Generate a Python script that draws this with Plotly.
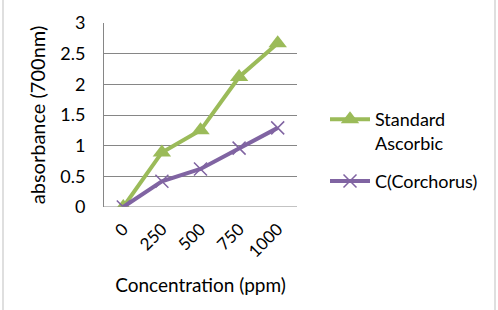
import plotly.graph_objects as go

categories = ["0", "250", "500", "750", "1000"]
standard_ascorbic = [0, 0.89, 1.25, 2.12, 2.67]
corchorus = [0, 0.42, 0.62, 0.96, 1.29]

W, H = 498, 310
ml, mr, mt, mb = 104, 201, 23, 103
pw = W - ml - mr
ph = H - mt - mb

fig = go.Figure()
fig.add_trace(go.Scatter(
    x=categories, y=standard_ascorbic, name="Standard<br>Ascorbic",
    mode="lines+markers", legendgroup="g1",
    line=dict(color="#9BBB59", width=4),
    marker=dict(symbol="triangle-up", size=16, color="#9BBB59"),
))
fig.add_trace(go.Scatter(
    x=categories, y=corchorus, name="C(Corchorus)",
    mode="lines+markers", legendgroup="g2",
    line=dict(color="#8064A2", width=4),
    marker=dict(symbol="x-thin", size=13, line=dict(color="#8064A2", width=1.5)),
))

fig.update_layout(
    width=W, height=H,
    margin=dict(l=ml, r=mr, t=mt, b=mb),
    paper_bgcolor="white", plot_bgcolor="white",
    font=dict(family="Lato, Noto Sans, sans-serif", size=18, color="black"),
    xaxis=dict(
        type="category", range=[-0.5, 4.5], tickangle=-45,
        showgrid=False, showline=False, zeroline=False,
        ticks="", tickfont=dict(size=17), ticklabelstandoff=8,
        title=dict(text="Concentration (ppm)", font=dict(size=19), standoff=18),
    ),
    yaxis=dict(
        range=[0, 3], dtick=0.5, showgrid=True, gridcolor="#868686", gridwidth=1,
        showline=True, linecolor="#868686", linewidth=1, zeroline=False,
        ticks="", tickfont=dict(size=18), ticklabelstandoff=14,
        title=dict(text="absorbance (700nm)", font=dict(size=20), standoff=9),
    ),
    legend=dict(
        x=(325 - ml) / pw, y=(207 - 101) / ph, xanchor="left", yanchor="top",
        font=dict(size=18), itemwidth=40, tracegroupgap=12, valign="top",
        traceorder="grouped",
        bgcolor="rgba(0,0,0,0)",
    ),
    shapes=[
        dict(type="line", xref="paper", yref="paper",
             x0=(3 - ml) / pw, x1=(3 - ml) / pw, y0=-mb / ph - 0.1, y1=1 + mt / ph + 0.1,
             line=dict(color="#BFBFBF", width=1)),
        dict(type="line", xref="paper", yref="paper",
             x0=(495 - ml) / pw, x1=(495 - ml) / pw, y0=-mb / ph - 0.1, y1=1 + mt / ph + 0.1,
             line=dict(color="#BFBFBF", width=1)),
        dict(type="line", xref="paper", yref="y",
             x0=0, x1=1, y0=0, y1=0, line=dict(color="#868686", width=1)),
    ],
)

fig.write_html("out.html")
